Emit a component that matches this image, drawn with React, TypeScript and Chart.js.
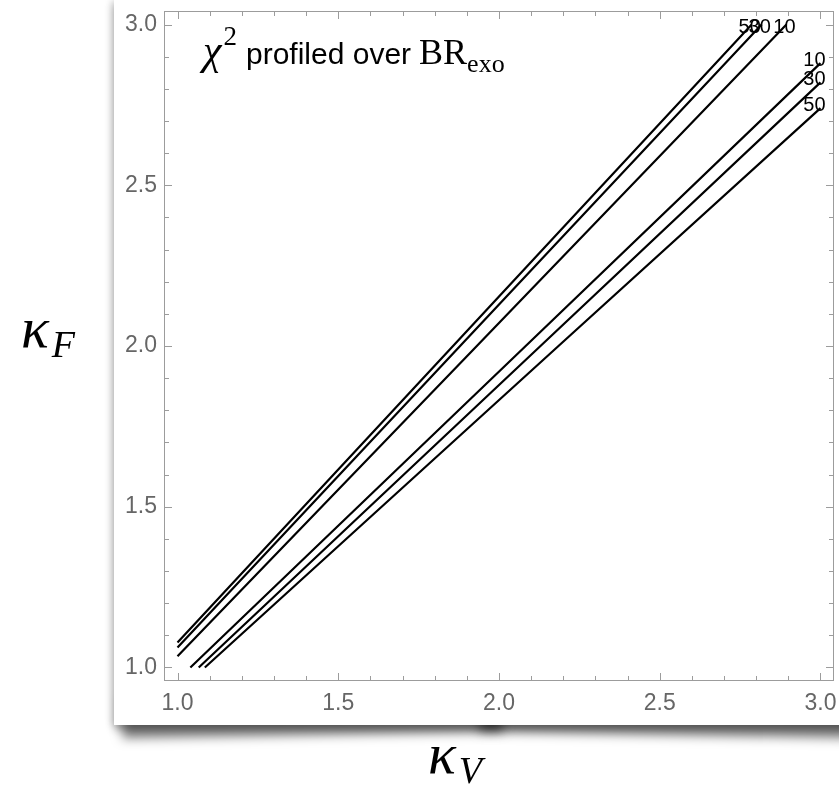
import { useEffect, useRef } from 'react';
import { Chart, registerables } from 'chart.js';

Chart.register(...registerables);

// Axis ticks
const xTickValues = [1.0, 1.5, 2.0, 2.5, 3.0];
const yTickValues = [1.0, 1.5, 2.0, 2.5, 3.0];
const frameTickValues = [1.0, 1.1, 1.2, 1.3, 1.4, 1.5, 1.6, 1.7, 1.8, 1.9, 2.0, 2.1, 2.2, 2.3, 2.4, 2.5, 2.6, 2.7, 2.8, 2.9, 3.0];
const axisMin = 0.958;
const axisMax = 3.042;

// Contour levels (chi^2 values)
const contourLevels = ['50', '30', '10', '10', '30', '50'];

// Upper branch contours (kappa_V, kappa_F)
const upper50X = [1.0, 1.857, 2.786];
const upper50Y = [1.078, 2.0, 3.0];
const upper30X = [1.0, 1.879, 2.817];
const upper30Y = [1.062, 2.0, 3.0];
const upper10X = [1.0, 1.931, 2.894];
const upper10Y = [1.035, 2.0, 3.0];

// Lower branch contours
const lower10X = [1.04, 2.083, 3.0];
const lower10Y = [1.0, 2.0, 2.88];
const lower30X = [1.066, 2.129, 3.0];
const lower30Y = [1.0, 2.0, 2.82];
const lower50X = [1.085, 2.185, 3.0];
const lower50Y = [1.0, 2.0, 2.74];

const contourXs = [upper50X, upper30X, upper10X, lower10X, lower30X, lower50X];
const contourYs = [upper50Y, upper30Y, upper10Y, lower10Y, lower30Y, lower50Y];

const SANS = '"Liberation Sans", Arial, Helvetica, sans-serif';
const SERIF = '"Liberation Serif", "Times New Roman", serif';

const framePlugin = {
  id: 'mmaFrame',
  afterDraw(chart: any) {
    const { ctx, chartArea, scales } = chart;
    const { left, right, top, bottom } = chartArea;
    const xs = scales.x;
    const ys = scales.y;
    ctx.save();
    ctx.strokeStyle = '#9c9c9c';
    ctx.lineWidth = 1;
    ctx.strokeRect(left + 0.5, top + 0.5, right - left - 1, bottom - top - 1);
    ctx.beginPath();
    frameTickValues.forEach((v) => {
      const major = Math.abs(v * 2 - Math.round(v * 2)) < 1e-6;
      const len = major ? 8 : 5;
      const px = Math.round(xs.getPixelForValue(v)) + 0.5;
      ctx.moveTo(px, bottom);
      ctx.lineTo(px, bottom - len);
      ctx.moveTo(px, top);
      ctx.lineTo(px, top + len);
      const py = Math.round(ys.getPixelForValue(v)) + 0.5;
      ctx.moveTo(left, py);
      ctx.lineTo(left + len, py);
      ctx.moveTo(right, py);
      ctx.lineTo(right - len, py);
    });
    ctx.stroke();

    // contour labels at the end of each contour
    ctx.fillStyle = '#000';
    ctx.font = `20px ${SANS}`;
    ctx.textAlign = 'center';
    ctx.textBaseline = 'middle';
    contourLevels.forEach((lab, i) => {
      const xsArr = contourXs[i];
      const ysArr = contourYs[i];
      const ex = xs.getPixelForValue(xsArr[xsArr.length - 1]);
      const ey = ys.getPixelForValue(ysArr[ysArr.length - 1]);
      const upper = i < 3;
      const dx = upper ? -2 : -6;
      const dy = upper ? 3 : -3;
      ctx.fillText(lab, ex + dx, ey + dy);
    });
    ctx.restore();
  },
};

function ContourChart() {
  const ref = useRef<HTMLCanvasElement | null>(null);
  useEffect(() => {
    if (!ref.current) return;
    const datasets = contourLevels.map((lab, i) => ({
      label: lab,
      data: contourXs[i].map((x, j) => ({ x, y: contourYs[i][j] })),
      showLine: true,
      borderColor: '#000',
      backgroundColor: '#000',
      borderWidth: 2.2,
      pointRadius: 0,
      tension: 0,
      fill: false,
    }));
    const chart = new Chart(ref.current, {
      type: 'scatter',
      data: { datasets },
      options: {
        responsive: false,
        animation: false,
        devicePixelRatio: 1,
        layout: { padding: { top: 11, right: 5, left: 0, bottom: 0 } },
        plugins: { legend: { display: false }, tooltip: { enabled: false } },
        scales: {
          x: {
            type: 'linear',
            min: axisMin,
            max: axisMax,
            grid: { display: false, drawTicks: false },
            border: { display: false },
            afterBuildTicks: (s: any) => {
              s.ticks = xTickValues.map((v) => ({ value: v }));
            },
            afterFit: (s: any) => {
              s.height = 44;
              s.paddingLeft = 0;
              s.paddingRight = 0;
              s.paddingTop = 0;
              s.paddingBottom = 0;
            },
            ticks: {
              autoSkip: false,
              maxRotation: 0,
              padding: 9,
              color: '#666',
              font: { family: SANS, size: 23 },
              callback: (v: any) => Number(v).toFixed(1),
            },
          },
          y: {
            type: 'linear',
            min: axisMin,
            max: axisMax,
            grid: { display: false, drawTicks: false },
            border: { display: false },
            afterBuildTicks: (s: any) => {
              s.ticks = yTickValues.map((v) => ({ value: v }));
            },
            afterFit: (s: any) => {
              s.width = 50;
              s.paddingLeft = 0;
              s.paddingRight = 0;
              s.paddingTop = 0;
              s.paddingBottom = 0;
            },
            ticks: {
              autoSkip: false,
              padding: 7,
              color: '#666',
              font: { family: SANS, size: 23 },
              callback: (v: any) => Number(v).toFixed(1),
            },
          },
        },
      },
      plugins: [framePlugin],
    } as any);
    return () => chart.destroy();
  }, []);
  return <canvas ref={ref} width={725} height={725} style={{ width: 725, height: 725, display: 'block' }} />;
}

export default function App() {
  return (
    <div style={{ position: 'absolute', left: 0, top: 0, width: 839, height: 793, background: '#fff', overflow: 'hidden' }}>
      {/* curl shadows */}
      <div style={{ position: 'absolute', left: 122, top: 680, width: 380, height: 40, boxShadow: '0 15px 11px rgba(0,0,0,0.5)', transform: 'rotate(-1deg)' }} />
      <div style={{ position: 'absolute', left: 480, top: 680, width: 380, height: 40, boxShadow: '0 15px 11px rgba(0,0,0,0.5)', transform: 'rotate(1deg)' }} />
      <div
        style={{
          position: 'absolute',
          left: 114,
          top: 0,
          width: 740,
          height: 725,
          background: '#fff',
          boxShadow: '0 5px 8px rgba(0,0,0,0.3), -3px 0 7px rgba(0,0,0,0.12)',
        }}
      >
        <ContourChart />
      </div>
      <svg width={839} height={793} style={{ position: 'absolute', left: 0, top: 0, pointerEvents: 'none' }}>
        <text x={203} y={64} fill="#000">
          <tspan fontFamily={SERIF} fontStyle="italic" fontSize={42}>χ</tspan>
          <tspan fontFamily={SERIF} fontSize={27} dy={-19} dx={2}>2</tspan>
          <tspan fontFamily={SANS} fontSize={30} dy={19} dx={9}>profiled over</tspan>
          <tspan fontFamily={SERIF} fontSize={36} dx={8}>BR</tspan>
          <tspan fontFamily={SERIF} fontSize={26} dy={8}>exo</tspan>
        </text>
        <text x={21} y={347} fill="#000" fontFamily={SERIF} fontStyle="italic" fontSize={58}>
          κ<tspan fontSize={38} dy={10} dx={3}>F</tspan>
        </text>
        <text x={428} y={773} fill="#000" fontFamily={SERIF} fontStyle="italic" fontSize={58}>
          κ<tspan fontSize={38} dy={10} dx={3}>V</tspan>
        </text>
      </svg>
    </div>
  );
}
